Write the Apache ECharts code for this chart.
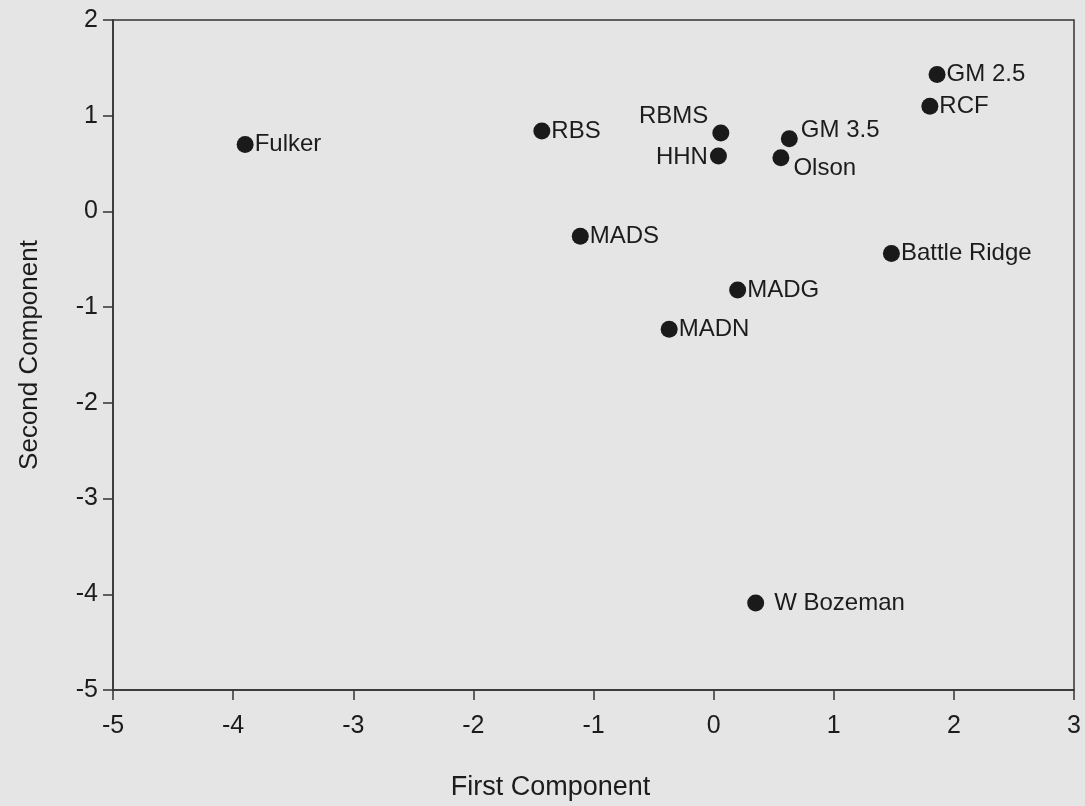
<!DOCTYPE html>
<html>
<head>
<meta charset="utf-8">
<title>Principal components</title>
<script src="https://cdn.jsdelivr.net/npm/echarts@6/dist/echarts.min.js"></script>
<style>
  html, body { margin: 0; padding: 0; background: #e5e5e5; }
  #chart { width: 1085px; height: 806px; }
</style>
</head>
<body>
<div id="chart"></div>
<script>
// Site scores on the first two principal components
const siteNames = ['Fulker', 'RBS', 'RBMS', 'HHN', 'GM 3.5', 'Olson', 'GM 2.5', 'RCF',
                   'Battle Ridge', 'MADS', 'MADG', 'MADN', 'W Bozeman'];
const firstComponent  = [-3.90, -1.43, 0.06, 0.04, 0.63, 0.56, 1.86, 1.80, 1.48, -1.11, 0.20, -0.37, 0.35];
const secondComponent = [0.70, 0.84, 0.82, 0.58, 0.76, 0.56, 1.43, 1.10, -0.44, -0.26, -0.82, -1.23, -4.09];

const xTicks = [-5, -4, -3, -2, -1, 0, 1, 2, 3];
const yTicks = [-5, -4, -3, -2, -1, 0, 1, 2];

// label placement for points whose names sit away from the default right side
const labelPlacement = {
  'RBMS':      { position: 'left',  distance: 4, offset: [0, -17] },
  'HHN':       { position: 'left',  distance: 2, offset: [0, 1] },
  'GM 3.5':    { position: 'right', distance: 3, offset: [0, -8] },
  'Olson':     { position: 'right', distance: 4, offset: [0, 11] },
  'W Bozeman': { position: 'right', distance: 10, offset: [0, 0] }
};

const textColor = '#1c1c1c';
const lineColor = '#333333';
const font = '"Liberation Sans", Arial, sans-serif';

const points = siteNames.map((name, i) => {
  const p = labelPlacement[name] || { position: 'right', distance: 1, offset: [0, 0] };
  return {
    name: name,
    value: [firstComponent[i], secondComponent[i]],
    label: { position: p.position, distance: p.distance, offset: p.offset }
  };
});

const chart = echarts.init(document.getElementById('chart'), null, { renderer: 'canvas' });
chart.setOption({
  backgroundColor: '#e5e5e5',
  animation: false,
  grid: {
    left: 113, right: 11, top: 20, bottom: 116,
    show: true, borderColor: lineColor, borderWidth: 1.5, backgroundColor: 'transparent'
  },
  xAxis: {
    type: 'value',
    min: xTicks[0], max: xTicks[xTicks.length - 1], interval: 1,
    name: 'First Component', nameLocation: 'middle', nameGap: 84,
    nameTextStyle: { fontFamily: font, fontSize: 27, color: textColor, padding: [0, 86, 0, 0] },
    axisLine: { show: true, onZero: false, lineStyle: { color: lineColor, width: 1.5 } },
    axisTick: { show: true, inside: false, length: 10, lineStyle: { color: lineColor, width: 1.5 } },
    axisLabel: { fontFamily: font, fontSize: 25, color: textColor, margin: 24,
                 formatter: v => xTicks.includes(v) ? String(v) : '' },
    splitLine: { show: false }
  },
  yAxis: {
    type: 'value',
    min: yTicks[0], max: yTicks[yTicks.length - 1], interval: 1,
    name: 'Second Component', nameLocation: 'middle', nameGap: 70,
    nameTextStyle: { fontFamily: font, fontSize: 26, color: textColor },
    axisLine: { show: true, onZero: false, lineStyle: { color: lineColor, width: 1.5 } },
    axisTick: { show: true, inside: false, length: 10, lineStyle: { color: lineColor, width: 1.5 } },
    axisLabel: { fontFamily: font, fontSize: 25, color: textColor, margin: 15,
                 formatter: v => yTicks.includes(v) ? String(v) : '' },
    splitLine: { show: false }
  },
  series: [{
    type: 'scatter',
    symbol: 'circle',
    symbolSize: 17,
    itemStyle: { color: '#1a1a1a', opacity: 1 },
    label: {
      show: true,
      formatter: '{b}',
      fontFamily: font,
      fontSize: 24,
      color: textColor
    },
    data: points
  }]
});
</script>
</body>
</html>
